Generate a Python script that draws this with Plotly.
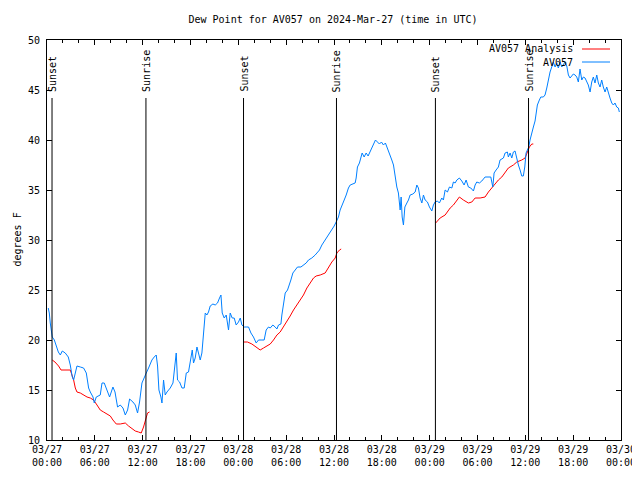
import pandas as pd
import plotly.graph_objects as go

BASE = "2024-03-27"

# Observed AV057 dew point: hours since 2024-03-27 00:00 UTC, degrees F
obs_hours = [0.16, 0.29, 0.41, 0.54, 0.66, 0.92, 1.17, 1.42, 1.67, 1.92, 2.29, 2.67, 2.92, 3.17, 3.34,
             3.55, 3.76, 4.18, 4.59, 4.93, 5.09, 5.22, 5.43, 5.77, 5.93, 6.18, 6.68, 6.90, 7.18, 7.52,
             7.85, 8.27, 8.53, 8.85, 9.19, 9.53, 9.82, 10.11, 10.36, 10.78, 11.07, 11.36, 11.61, 11.91,
             12.20, 12.45, 12.74, 13.16, 13.45, 13.70, 13.87, 14.04, 14.29, 14.42, 14.62, 14.83, 15.05,
             15.46, 15.80, 16.00, 16.21, 16.37, 16.63, 16.93, 17.21, 17.47, 17.75, 18.05, 18.22, 18.38,
             18.59, 18.81, 19.01, 19.22, 19.43, 19.63, 19.85, 20.06, 20.26, 20.47, 20.81, 21.10, 21.39,
             21.64, 21.82, 21.98, 22.23, 22.48, 22.77, 22.98, 23.23, 23.48, 23.73, 24.02, 24.24, 24.45,
             24.74, 24.99, 25.28, 25.58, 25.90, 26.24, 26.53, 26.96, 27.24, 27.49, 27.78, 28.00, 28.33,
             28.62, 28.84, 29.04, 29.34, 29.46, 29.66, 29.88, 30.17, 30.42, 30.59, 30.84, 31.13, 31.42,
             31.85, 32.17, 32.51, 32.80, 33.22, 33.64, 33.93, 34.18, 34.48, 34.89, 35.31, 35.73, 36.02,
             36.27, 36.56, 36.77, 36.99, 37.28, 37.53, 37.81, 38.03, 38.37, 38.65, 38.78, 38.94, 39.19,
             39.37, 39.53, 39.78, 40.03, 40.28, 40.53, 40.75, 40.95, 41.20, 41.45, 41.70, 41.95, 42.20,
             42.45, 42.70, 42.95, 43.25, 43.46, 43.67, 43.88, 44.08, 44.30, 44.42, 44.55, 44.71, 44.89,
             45.14, 45.34, 45.55, 45.89, 46.18, 46.39, 46.59, 46.80, 47.02, 47.22, 47.43, 47.72, 47.97,
             48.27, 48.47, 48.68, 48.97, 49.22, 49.52, 49.72, 49.94, 50.23, 50.48, 50.78, 50.98, 51.19,
             51.41, 51.73, 52.03, 52.32, 52.57, 52.86, 53.16, 53.49, 53.70, 53.91, 54.24, 54.54, 54.95,
             55.37, 55.67, 55.92, 56.08, 56.33, 56.62, 56.83, 57.05, 57.25, 57.46, 57.75, 57.87, 58.09,
             58.30, 58.50, 58.71, 58.93, 59.13, 59.34, 59.55, 59.75, 59.93, 60.09, 60.26, 60.43, 60.59,
             60.81, 61.01, 61.22, 61.51, 61.76, 61.94, 62.26, 62.47, 62.69, 62.89, 63.10, 63.31, 63.52,
             63.73, 63.94, 64.14, 64.36, 64.57, 64.77, 64.98, 65.20, 65.40, 65.61, 65.82, 66.02, 66.24,
             66.45, 66.65, 66.86, 67.08, 67.28, 67.49, 67.70, 67.90, 68.12, 68.33, 68.53, 68.74, 68.96,
             69.16, 69.37, 69.58, 69.78, 70.00, 70.21, 70.41, 70.62, 70.84, 71.04, 71.25, 71.46, 71.67,
             71.79]
obs_dewpt = [23.2, 22.7, 21.7, 20.7, 20.3, 20.0, 19.3, 18.8, 18.5, 18.9, 18.7, 18.3, 17.5, 16.3, 16.0,
             16.7, 17.4, 17.3, 17.2, 16.7, 16.0, 15.2, 14.8, 14.3, 13.7, 14.3, 14.5, 15.7, 15.7, 15.0,
             14.3, 15.3, 14.8, 13.3, 13.5, 13.2, 12.5, 13.0, 14.1, 13.8, 13.5, 12.7, 13.8, 15.7,
             16.3, 16.7, 17.2, 18.0, 18.3, 18.5, 17.4, 15.0, 14.3, 13.7, 16.0, 14.5, 14.8,
             15.2, 15.7, 17.0, 18.7, 16.0, 15.8, 15.2, 15.2, 16.7, 16.8, 18.2, 19.0, 17.7,
             18.2, 19.3, 18.7, 18.0, 18.7, 20.7, 22.7, 22.5, 22.8, 23.4, 23.6, 23.5, 23.7,
             24.2, 24.5, 22.7, 22.2, 22.5, 21.0, 22.7, 22.2, 22.2, 21.5, 21.8, 22.2, 21.5,
             21.3, 21.3, 21.3, 20.7, 20.3, 19.7, 20.0, 20.0, 20.0, 21.0, 21.3, 21.2, 21.5,
             21.3, 21.1, 21.5, 21.6, 22.5, 23.8, 24.7, 25.0, 25.5, 26.0, 26.7, 27.0, 27.3,
             27.3, 27.5, 27.7, 28.0, 28.2, 28.5, 28.8, 29.0, 29.5, 30.0, 30.5, 31.0, 31.4,
             31.8, 32.3, 33.0, 33.5, 34.0, 34.5, 35.2, 35.5, 35.6, 35.7, 36.2, 37.3, 37.7,
             38.3, 38.7, 38.3, 38.7, 38.4, 38.8, 39.3, 39.5, 40.0, 39.8, 39.6, 39.8, 39.5,
             39.7, 39.2, 38.8, 38.0, 37.5, 36.2, 35.3, 34.7, 33.0, 34.3, 32.3, 31.5, 33.3,
             33.7, 34.0, 34.5, 34.6, 34.8, 35.5, 35.2, 34.2, 33.7, 34.5, 34.0, 33.8, 33.3,
             32.9, 33.5, 33.8, 33.9, 33.7, 34.2, 34.0, 35.0, 34.8, 35.3, 35.2, 35.8, 35.7,
             36.0, 36.2, 35.9, 35.5, 36.0, 35.3, 35.2, 34.9, 35.5, 35.8, 35.7, 35.9, 36.3,
             36.3, 36.3, 35.3, 36.7, 37.0, 37.3, 38.0, 38.1, 38.2, 38.7, 38.8, 38.3, 38.7,
             38.2, 38.8, 38.9, 38.0, 37.5, 37.0, 36.4, 36.4, 37.3, 38.7, 39.0, 39.3, 40.0,
             40.8, 41.3, 41.9, 43.5, 44.0, 44.3, 44.3, 44.5, 45.2, 46.2, 46.8, 47.3, 47.8,
             47.3, 47.7, 47.2, 47.8, 47.3, 47.5, 47.8, 47.4, 46.5, 46.2, 46.4, 46.6, 46.5,
             46.3, 45.8, 47.1, 46.0, 46.3, 46.2, 45.8, 45.5, 44.8, 45.8, 46.3, 45.7, 46.5,
             45.7, 45.3, 46.0, 45.3, 44.8, 45.3, 44.7, 44.2, 43.7, 43.5, 43.7, 43.3, 43.2,
             42.8]

# Analysis dew point (three nighttime segments)
ana_hours_1 = [0.66, 1.00, 1.45, 1.76, 2.92, 3.13, 3.34, 3.55, 3.76, 4.18, 4.59, 5.02, 5.43, 5.84, 6.27,
               6.68, 7.10, 7.52, 7.94, 8.27, 8.69, 9.19, 9.82, 10.23, 10.66, 11.07, 11.48, 11.82, 12.11,
               12.45, 12.61, 12.86]
ana_dewpt_1 = [18.0, 17.8, 17.4, 17.0, 17.0, 16.5, 16.0, 15.2, 14.8, 14.7, 14.5, 14.3, 14.2, 14.0, 13.5,
               13.0, 12.8, 12.6, 12.4, 12.0, 11.6, 11.6, 11.7, 11.4, 11.1, 10.9, 10.8, 10.7, 11.3,
               12.2, 12.7, 12.8]
ana_hours_2 = [24.65, 25.15, 25.70, 26.24, 26.74, 27.16, 27.66, 28.00, 28.41, 28.84, 29.25, 29.66, 30.09,
               30.50, 30.92, 31.34, 31.76, 32.17, 32.60, 33.01, 33.43, 33.76, 34.27, 34.89, 35.31, 35.73,
               36.15, 36.36, 36.69, 36.90]
ana_dewpt_2 = [19.8, 19.8, 19.6, 19.3, 19.0, 19.2, 19.4, 19.6, 20.0, 20.5, 20.8, 21.3, 21.8,
               22.4, 23.0, 23.5, 24.0, 24.5, 25.2, 25.7, 26.2, 26.4, 26.5, 26.7, 27.3, 27.8,
               28.2, 28.7, 29.0, 29.1]
ana_hours_3 = [48.75, 49.31, 49.94, 50.57, 50.98, 51.41, 51.73, 52.23, 52.86, 53.29, 53.70, 54.33, 54.95,
               55.37, 55.79, 56.21, 56.62, 57.05, 57.46, 57.87, 58.50, 58.93, 59.55, 59.97, 60.26, 60.51,
               60.81, 61.00]
ana_dewpt_3 = [31.7, 32.2, 32.5, 33.2, 33.5, 34.0, 34.3, 34.0, 33.7, 33.8, 34.2, 34.2, 34.3,
               34.8, 35.2, 35.7, 36.0, 36.3, 36.8, 37.2, 37.5, 37.8, 38.0, 38.2, 38.8, 39.3,
               39.6, 39.6]

sun_labels = ["Sunset", "Sunrise", "Sunset", "Sunrise", "Sunset", "Sunrise"]
sun_hours = [0.63, 12.41, 24.65, 36.31, 48.72, 60.40]

TITLE = "Dew Point for AV057 on 2024-Mar-27 (time in UTC)"
FONT = "DejaVu Sans Mono"
BLUE = "#0080ff"
RED = "#ff0000"

# the page body adds an 8px offset; compensate so the plot lands where the reference has it
OFF = 8


def to_time(hours):
    return pd.Timestamp(BASE) + pd.to_timedelta(pd.Series(hours), unit="h")


fig = go.Figure()
ana_x = list(to_time(ana_hours_1)) + [None] + list(to_time(ana_hours_2)) + [None] + list(to_time(ana_hours_3))
ana_y = ana_dewpt_1 + [None] + ana_dewpt_2 + [None] + ana_dewpt_3
fig.add_trace(go.Scatter(x=ana_x, y=ana_y, mode="lines", name="AV057 Analysis",
                         line=dict(color=RED, width=1), connectgaps=False))
fig.add_trace(go.Scatter(x=to_time(obs_hours), y=obs_dewpt, mode="lines", name="AV057",
                         line=dict(color=BLUE, width=1)))

for lab, t in zip(sun_labels, to_time(sun_hours)):
    fig.add_shape(type="line", xref="x", yref="y", x0=t, x1=t, y0=10, y1=44.2,
                  line=dict(color="black", width=1))
    fig.add_annotation(x=t, y=44.6, xref="x", yref="y", text=lab, textangle=-90,
                       showarrow=False, xanchor="center", yanchor="bottom",
                       font=dict(family=FONT, size=10, color="black"))

# screen-space plot box of the reference
L, R, T, B = 47, 621, 40, 440
def px(xp):
    return (xp - L) / (R - L)
def py(yp):
    return (B - yp) / (B - T)

# legend (gnuplot style: text right-aligned, sample line on the right)
for name, col, yy in [("AV057 Analysis", RED, 49), ("AV057", BLUE, 62)]:
    fig.add_annotation(x=px(575), y=py(yy), xref="paper", yref="paper", text=name,
                       showarrow=False, xanchor="right", yanchor="middle",
                       font=dict(family=FONT, size=10, color="black"))
    fig.add_shape(type="line", xref="paper", yref="paper", x0=px(582), x1=px(610),
                  y0=py(yy), y1=py(yy), line=dict(color=col, width=1))

fig.add_annotation(x=px(OFF + 1), y=0.5, xref="paper", yref="paper", text="degrees F",
                   textangle=-90, showarrow=False, xanchor="left", yanchor="middle",
                   font=dict(family=FONT, size=10, color="black"))

fig.update_layout(
    width=640, height=480,
    margin=dict(l=L - OFF, r=640 - R + OFF, t=T - OFF, b=480 - B + OFF),
    paper_bgcolor="white", plot_bgcolor="white",
    showlegend=False,
    font=dict(family=FONT, size=10, color="black"),
    title=dict(text=TITLE, x=px(333), xref="paper", xanchor="center",
               y=1 - (19 - OFF) / 480, yref="container", yanchor="middle",
               font=dict(family=FONT, size=10, color="black")),
)
fig.update_xaxes(
    range=[pd.Timestamp("2024-03-27 00:00"), pd.Timestamp("2024-03-30 00:00")],
    type="date", dtick=6 * 3600 * 1000, tick0="2024-03-27 00:00",
    tickformat="%m/%d<br>%H:%M",
    ticks="inside", ticklen=5, tickwidth=1, tickcolor="black",
    minor=dict(dtick=2 * 3600 * 1000, ticks="inside", ticklen=3, tickwidth=1, tickcolor="black"),
    showline=True, linecolor="black", linewidth=1, mirror="ticks",
    showgrid=False, zeroline=False, automargin=False,
    tickfont=dict(family=FONT, size=10, color="black"),
)
fig.update_yaxes(
    range=[10, 50], dtick=5, tick0=10,
    ticks="inside", ticklen=5, tickwidth=1, tickcolor="black",
    showline=True, linecolor="black", linewidth=1, mirror="ticks",
    showgrid=False, zeroline=False, automargin=False, ticklabelstandoff=4,
    tickfont=dict(family=FONT, size=10, color="black"),
)

fig.write_html("out.html")
